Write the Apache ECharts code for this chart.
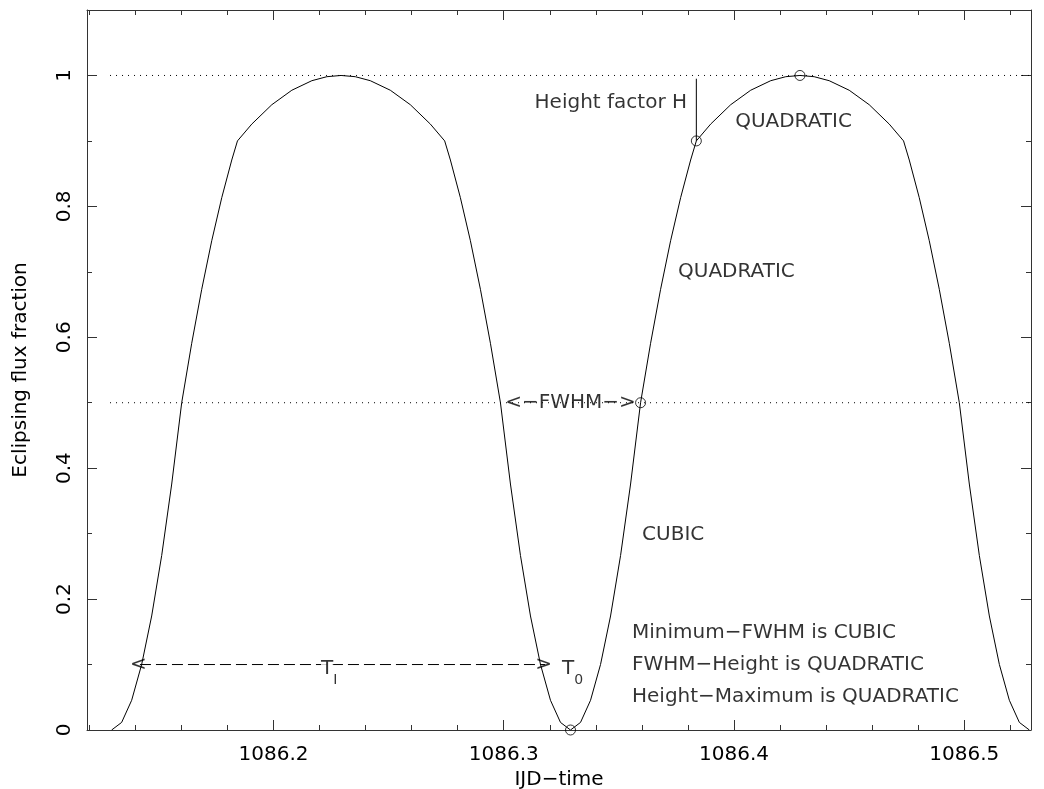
<!DOCTYPE html>
<html>
<head>
<meta charset="utf-8">
<script src="https://cdn.jsdelivr.net/npm/echarts@6/dist/echarts.min.js"></script>
<style>
html,body{margin:0;padding:0;background:#fff;}
#chart{width:1044px;height:789px;}
</style>
</head>
<body>
<div id="chart"></div>
<script>
// ---- data ----
const X_MIN = 1086.119;
const X_MAX = 1086.529;
const Y_MIN = 0;
const Y_MAX = 1.1;

const X_MAJOR = [1086.2, 1086.3, 1086.4, 1086.5];
const X_MINOR = [1086.12, 1086.14, 1086.16, 1086.18, 1086.22, 1086.24, 1086.26, 1086.28,
                 1086.32, 1086.34, 1086.36, 1086.38, 1086.42, 1086.44, 1086.46, 1086.48, 1086.52];
const Y_MAJOR = [0, 0.2, 0.4, 0.6, 0.8, 1];
const Y_MINOR = [0.1, 0.3, 0.5, 0.7, 0.9];

// eclipse profile curve
const curveX = [
  1086.1297, 1086.13405, 1086.1384, 1086.14274, 1086.14709, 1086.15144, 1086.15579, 1086.16013,
  1086.16448, 1086.16883, 1086.17318, 1086.17753, 1086.18187, 1086.18435, 1086.19057, 1086.19927,
  1086.20796, 1086.21666, 1086.22318, 1086.22935,
  1086.23552, 1086.24204, 1086.25074, 1086.25943, 1086.26813, 1086.27435, 1086.27683, 1086.28117,
  1086.28552, 1086.28987, 1086.29422, 1086.29857, 1086.30291, 1086.30726, 1086.31161, 1086.31596,
  1086.3203, 1086.32465, 1086.329,
  1086.33335, 1086.3377, 1086.34204, 1086.34639, 1086.35074, 1086.35509, 1086.35943, 1086.36378,
  1086.36813, 1086.37248, 1086.37683, 1086.38117, 1086.38365, 1086.38987, 1086.39857, 1086.40726,
  1086.41596, 1086.42248, 1086.42865,
  1086.43482, 1086.44134, 1086.45004, 1086.45873, 1086.46743, 1086.47365, 1086.47613, 1086.48047,
  1086.48482, 1086.48917, 1086.49352, 1086.49787, 1086.50221, 1086.50656, 1086.51091, 1086.51526,
  1086.5196, 1086.52395, 1086.5283
];
const curveY = [
  0, 0.0116, 0.0454, 0.1001, 0.1742, 0.2666, 0.3758, 0.5,
  0.5908, 0.6733, 0.7475, 0.8133, 0.8708, 0.9, 0.9257, 0.9553,
  0.9774, 0.9920, 0.9981, 1.0,
  0.9981, 0.9920, 0.9774, 0.9553, 0.9257, 0.9, 0.8708, 0.8133,
  0.7475, 0.6733, 0.5908, 0.5, 0.3758, 0.2666, 0.1742, 0.1001,
  0.0454, 0.0116, 0,
  0.0116, 0.0454, 0.1001, 0.1742, 0.2666, 0.3758, 0.5, 0.5908,
  0.6733, 0.7475, 0.8133, 0.8708, 0.9, 0.9257, 0.9553, 0.9774,
  0.9920, 0.9981, 1.0,
  0.9981, 0.9920, 0.9774, 0.9553, 0.9257, 0.9, 0.8708, 0.8133,
  0.7475, 0.6733, 0.5908, 0.5, 0.3758, 0.2666, 0.1742, 0.1001,
  0.0454, 0.0116, 0
];

// marked points: minimum, FWHM, height, maximum
const markX = [1086.329, 1086.35943, 1086.38365, 1086.42865];
const markY = [0, 0.5, 0.9, 1.0];

// dotted reference levels
const refLevels = [1.0, 0.5];
const refStart = 1086.129;
const refEnd = 1086.529;

// height-factor bar
const hBarX = 1086.38365;
const hBarY = [0.9, 0.995];

// T_I dashed span
const spanX = [1086.142, 1086.318];
const spanY = 0.1;

// text annotations
const annoText = ['Height factor H', 'QUADRATIC', 'QUADRATIC', 'CUBIC', '<\u2212FWHM\u2212>',
                  'Minimum\u2212FWHM is CUBIC', 'FWHM\u2212Height is QUADRATIC', 'Height\u2212Maximum is QUADRATIC',
                  '<', '>', '{t|T}{s|I}', '{t|T}{s|0}'];
const annoX = [1086.3796, 1086.4005, 1086.3757, 1086.3601, 1086.329,
               1086.3557, 1086.3557, 1086.3557,
               1086.1377, 1086.3210, 1086.2246, 1086.3253];
const annoY = [0.958, 0.929, 0.70, 0.298, 0.5,
               0.148, 0.099, 0.050,
               0.1, 0.1, 0.087, 0.087];
const annoAlign = ['right', 'left', 'left', 'left', 'center',
                   'left', 'left', 'left',
                   'left', 'right', 'center', 'left'];

// ---- chart ----
const FONT = 'DejaVu Sans';
const INK = '#000';
const AXC = '#333';
const chart = echarts.init(document.getElementById('chart'), null, {renderer: 'canvas'});

function xAx(pos, vals, len, showLine, showLabel, extra) {
  return Object.assign({
    type: 'value', min: X_MIN, max: X_MAX, position: pos, gridIndex: 0,
    axisLine: {show: showLine, onZero: false, lineStyle: {color: AXC, width: 1}},
    axisTick: {show: true, inside: true, length: len, customValues: vals, lineStyle: {color: AXC, width: 1}},
    axisLabel: showLabel ? {show: true, customValues: vals, margin: 15, fontSize: 20, fontFamily: FONT, color: INK,
      formatter: v => (+v).toFixed(1)} : {show: false},
    splitLine: {show: false}, minorTick: {show: false}
  }, extra || {});
}
function yAx(pos, vals, len, showLine, showLabel, extra) {
  return Object.assign({
    type: 'value', min: Y_MIN, max: Y_MAX, position: pos, gridIndex: 0,
    axisLine: {show: showLine, onZero: false, lineStyle: {color: AXC, width: 1}},
    axisTick: {show: true, inside: true, length: len, customValues: vals, lineStyle: {color: AXC, width: 1}},
    axisLabel: showLabel ? {show: true, customValues: vals, rotate: 90, margin: 12, fontSize: 20, fontFamily: FONT, color: INK,
      formatter: v => String(+(+v).toFixed(1))} : {show: false},
    splitLine: {show: false}, minorTick: {show: false}
  }, extra || {});
}

const annoData = annoText.map((t, i) => ({
  value: [annoX[i], annoY[i]],
  label: {show: true, formatter: t, align: annoAlign[i]}
}));

const option = {
  animation: false,
  backgroundColor: '#fff',
  textStyle: {fontFamily: FONT},
  grid: {left: 87, right: 13, top: 10, bottom: 59, containLabel: false, outerBoundsMode: 'none'},
  xAxis: [
    xAx('bottom', X_MAJOR, 10, true, true, {
      name: 'IJD\u2212time', nameLocation: 'middle', nameGap: 39,
      nameTextStyle: {fontSize: 20, fontFamily: FONT, color: INK}
    }),
    xAx('bottom', X_MINOR, 5, false, false),
    xAx('top', X_MAJOR, 10, true, false),
    xAx('top', X_MINOR, 5, false, false)
  ],
  yAxis: [
    yAx('left', Y_MAJOR, 10, true, true, {
      name: 'Eclipsing flux fraction', nameLocation: 'middle', nameGap: 56, nameRotate: 90,
      nameTextStyle: {fontSize: 20, fontFamily: FONT, color: INK}
    }),
    yAx('left', Y_MINOR, 5, false, false),
    yAx('right', Y_MAJOR, 10, true, false),
    yAx('right', Y_MINOR, 5, false, false)
  ],
  series: [
    {
      name: 'profile', type: 'line', xAxisIndex: 0, yAxisIndex: 0,
      data: curveX.map((x, i) => [x, curveY[i]]),
      showSymbol: false, smooth: false, silent: true,
      lineStyle: {color: '#000', width: 1}
    },
    ...refLevels.map(lv => ({
      type: 'line', xAxisIndex: 0, yAxisIndex: 0, silent: true, showSymbol: false,
      data: [[refStart, lv], [refEnd, lv]],
      lineStyle: {color: '#000', width: 1, type: [1, 5]}
    })),
    {
      type: 'line', xAxisIndex: 0, yAxisIndex: 0, silent: true, showSymbol: false,
      data: hBarY.map(y => [hBarX, y]),
      lineStyle: {color: '#000', width: 1}
    },
    {
      type: 'line', xAxisIndex: 0, yAxisIndex: 0, silent: true, showSymbol: false,
      data: spanX.map(x => [x, spanY]),
      lineStyle: {color: '#000', width: 1, type: [11, 5]}
    },
    {
      type: 'scatter', xAxisIndex: 0, yAxisIndex: 0, silent: true,
      data: markX.map((x, i) => [x, markY[i]]),
      symbol: 'circle', symbolSize: 10,
      itemStyle: {color: 'rgba(0,0,0,0)', borderColor: '#000', borderWidth: 1},
      z: 5
    },
    {
      type: 'scatter', xAxisIndex: 0, yAxisIndex: 0, silent: true,
      data: annoData, symbolSize: 0, z: 6,
      label: {
        show: true, position: 'inside', verticalAlign: 'middle',
        fontSize: 20, fontFamily: FONT, color: INK,
        rich: {
          t: {fontSize: 20, fontFamily: FONT, color: INK, verticalAlign: 'bottom', padding: [0, 0, 8, 0], backgroundColor: '#fff'},
          s: {fontSize: 14, fontFamily: FONT, color: INK, verticalAlign: 'bottom', padding: [0, 2, 0, 0], backgroundColor: '#fff'}
        }
      }
    }
  ]
};
chart.setOption(option);
</script>
</body>
</html>
